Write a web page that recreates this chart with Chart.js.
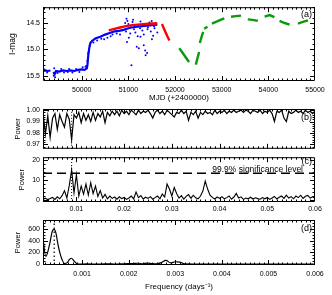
<!DOCTYPE html>
<html>
<head>
<meta charset="utf-8">
<script src="https://cdn.jsdelivr.net/npm/chart.js@4.4.1/dist/chart.umd.min.js"></script>
<style>
  html, body { margin: 0; padding: 0; background: #fff; }
  #wrap { position: relative; width: 332px; height: 295px; overflow: hidden; }
  canvas { position: absolute; left: 0; }
</style>
</head>
<body>
<div id="wrap">
  <canvas id="chartA" width="332" height="106" style="top:0px"></canvas>
  <canvas id="chartB" width="332" height="56" style="top:100px"></canvas>
  <canvas id="chartC" width="332" height="62" style="top:150px"></canvas>
  <canvas id="chartD" width="332" height="83" style="top:212px"></canvas>
</div>
<script>
// ---------------------------------------------------------------
// data
// ---------------------------------------------------------------

// (a) light curve, [MJD, I-mag]; null mag = gap between seasons
const blueTrend = [
  [49175, 15.41], [49220, 15.40], [49270, 15.41], [49330, 15.40], [49350, null],
  [49390, 15.43], [49420, 15.47], [49450, 15.41], [49520, 15.42], [49600, 15.40],
  [49680, 15.41], [49760, 15.40], [49840, 15.41], [49920, 15.39], [50000, 15.38],
  [50060, 15.39], [50110, 15.36], [50125, 15.28], [50140, 15.12], [50160, 14.98],
  [50185, 14.88], [50220, 14.84], [50300, 14.79], [50400, 14.76], [50500, 14.72],
  [50600, 14.69], [50700, 14.66], [50800, 14.65], [50900, 14.63], [51000, 14.60],
  [51100, 14.58], [51200, 14.57], [51300, 14.56], [51400, 14.55], [51500, 14.54],
  [51620, 14.53]
];
const blueScatter = [
  [49200, 15.38], [49260, 15.44], [49400, 15.50], [49430, 15.53], [49410, 15.36],
  [49480, 15.45], [49560, 15.37], [49620, 15.44], [49700, 15.43], [49730, 15.37],
  [49800, 15.44], [49880, 15.37], [49950, 15.43], [50020, 15.34], [50080, 15.33],
  [50100, 15.31], [50120, 15.22], [50130, 15.18], [50135, 15.08], [50150, 15.05],
  [50170, 14.93], [50250, 14.87], [50330, 14.83], [50420, 14.80], [50480, 14.81],
  [50550, 14.78], [50620, 14.75], [50660, 14.72], [50750, 14.70], [50820, 14.72],
  [50930, 14.50], [50960, 14.42], [50980, 14.46], [51000, 14.52], [50950, 14.66],
  [50970, 14.86], [51010, 14.78], [51040, 14.70], [51065, 15.30], [51090, 14.48],
  [51120, 14.62], [51150, 14.68], [51180, 14.95], [51210, 14.54], [51225, 14.98],
  [51260, 14.47], [51300, 14.64], [51330, 14.72], [51360, 15.02], [51370, 15.11],
  [51400, 15.07], [51420, 14.58], [51450, 14.49], [51480, 14.66], [51505, 14.81],
  [51530, 14.74], [51560, 14.60], [51590, 14.50], [51620, 14.68], [51100, 14.44],
  [51250, 14.60], [51500, 14.46], [51410, 14.62], [51550, 14.56], [51200, 14.75],
  [51050, 14.58], [51330, 14.92], [51260, 14.76]
];
const redSeasons = [
  [50580, 14.64], [50700, 14.61], [50800, 14.59], [50950, 14.56], [51080, 14.54],
  [51200, 14.53], [51370, 14.52], [51500, 14.51], [51620, 14.51], [51670, null],
  [51720, 14.52], [51780, 14.64], [51830, 14.74], [51880, 14.83]
];
const greenSeasons = [
  [52090, 14.98], [52150, 15.05], [52220, 15.14], [52300, 15.24], [52370, null],
  [52446, 15.29], [52480, 15.17], [52517, 15.05], [52525, null],
  [52532, 14.88], [52570, 14.76], [52603, 14.67], [52614, null],
  [52625, 14.61], [52660, 14.59], [52696, 14.57], [52740, null],
  [52790, 14.51], [52900, 14.47], [53000, 14.43], [53056, 14.41], [53130, null],
  [53200, 14.38], [53300, 14.37], [53415, 14.36], [53490, null],
  [53560, 14.43], [53660, 14.44], [53775, 14.46], [53850, null],
  [53920, 14.38], [54025, 14.35], [54130, 14.39], [54190, null],
  [54240, 14.46], [54350, 14.50], [54455, 14.53], [54550, null],
  [54635, 14.51], [54740, 14.48], [54850, 14.45]
];

// (b), (c) periodograms on a common frequency grid (days^-1)
const freqBC = [
  0.0030, 0.0035, 0.0040, 0.0045, 0.0050, 0.0055, 0.0060, 0.0065, 0.0070, 0.0075,
  0.0080, 0.0085, 0.0090, 0.0095, 0.0100, 0.0105, 0.0110, 0.0115, 0.0120, 0.0125,
  0.0130, 0.0135, 0.0140, 0.0145, 0.0150, 0.0155, 0.0160, 0.0165, 0.0170, 0.0175,
  0.0180, 0.0185, 0.0190, 0.0195, 0.0200, 0.0205, 0.0210, 0.0215, 0.0220, 0.0225,
  0.0230, 0.0235, 0.0240, 0.0245, 0.0250, 0.0255, 0.0260, 0.0265, 0.0270, 0.0275,
  0.0280, 0.0285, 0.0290, 0.0295, 0.0300, 0.0305, 0.0310, 0.0315, 0.0320, 0.0325,
  0.0330, 0.0335, 0.0340, 0.0345, 0.0350, 0.0355, 0.0360, 0.0365, 0.0370, 0.0375,
  0.0380, 0.0385, 0.0390, 0.0395, 0.0400, 0.0405, 0.0410, 0.0415, 0.0420, 0.0425,
  0.0430, 0.0435, 0.0440, 0.0445, 0.0450, 0.0455, 0.0460, 0.0465, 0.0470, 0.0475,
  0.0480, 0.0485, 0.0490, 0.0495, 0.0500, 0.0505, 0.0510, 0.0515, 0.0520, 0.0525,
  0.0530, 0.0535, 0.0540, 0.0545, 0.0550, 0.0555, 0.0560, 0.0565, 0.0570, 0.0575,
  0.0580, 0.0585, 0.0590, 0.0595, 0.0600
];
const powerB = [
  0.998, 0.979, 0.995, 0.976, 0.993, 0.997, 0.983, 0.996, 0.990, 0.985,
  0.997, 0.992, 0.974, 0.996, 0.993, 0.998, 0.989, 0.997, 0.991, 0.996,
  0.990, 0.998, 0.991, 0.997, 0.994, 0.999, 0.989, 0.998, 0.995, 0.999,
  0.996, 0.999, 0.995, 1.000, 0.997, 0.999, 0.996, 1.000, 0.998, 0.996,
  1.000, 0.997, 0.999, 0.998, 1.000, 0.997, 0.993, 0.998, 1.000, 0.997,
  0.999, 0.996, 1.000, 0.998, 0.996, 0.994, 0.998, 0.997, 1.000, 0.997,
  0.999, 0.991, 0.998, 0.996, 0.999, 0.993, 0.998, 0.996, 0.999, 0.997,
  0.998, 0.996, 1.000, 0.997, 0.999, 0.998, 1.000, 0.997, 0.999, 0.998,
  1.000, 0.998, 0.999, 1.000, 0.998, 1.000, 0.999, 0.997, 1.000, 0.999,
  0.998, 1.000, 0.997, 0.999, 0.998, 1.000, 0.997, 0.990, 0.999, 0.998,
  1.000, 0.993, 0.990, 0.999, 0.997, 0.998, 1.000, 0.998, 0.999, 0.997,
  1.000, 0.998, 0.999, 0.997, 0.999
];
const powerC = [
  0.3, 0.9, 0.2, 0.7, 1.3, 0.3, 1.6, 0.6, 2.2, 4.7,
  1.0, 7.2, 15.1, 3.5, 12.7, 2.0, 7.0, 3.0, 8.0, 2.5,
  8.7, 3.2, 7.0, 1.8, 4.7, 1.0, 2.8, 0.6, 2.0, 0.8,
  1.5, 0.4, 1.6, 0.7, 1.3, 0.3, 1.0, 2.0, 0.6, 4.0,
  1.2, 2.2, 0.5, 1.4, 0.8, 1.7, 0.4, 1.2, 2.0, 0.6,
  3.0, 1.5, 8.0, 5.5, 2.0, 6.3, 3.3, 1.0, 2.2, 0.5,
  1.8, 2.7, 0.9, 2.4, 1.1, 0.6, 2.0, 4.5, 9.5, 5.5,
  2.4, 1.3, 0.5, 1.5, 0.8, 1.7, 0.6, 1.2, 2.0, 0.4,
  1.5, 3.3, 1.0, 1.6, 0.3, 1.0, 0.6, 1.4, 0.5, 1.1,
  0.7, 0.4, 1.2, 0.6, 1.3, 0.3, 1.0, 1.8, 0.5, 1.4,
  2.0, 0.8, 2.4, 1.0, 1.7, 0.6, 2.0, 1.2, 2.4, 0.8,
  1.9, 2.3, 1.0, 1.6, 0.9
];
const sigLevel = 13.5;
const peakFreqBC = 0.009;

// (d) long-period periodogram
const freqD = [
  0.00016, 0.00022, 0.00030, 0.00036, 0.00040, 0.00044, 0.00048, 0.00052, 0.00056, 0.00062,
  0.00068, 0.00073, 0.00077, 0.00082, 0.00088, 0.00095, 0.0011, 0.0013, 0.0015, 0.0017,
  0.0019, 0.0021, 0.0022, 0.0023, 0.0024, 0.0025, 0.0026, 0.0027, 0.0028, 0.0029,
  0.0030, 0.0031, 0.0032, 0.0034, 0.0037, 0.0040, 0.0045, 0.0050, 0.0055, 0.0060
];
const powerD = [
  430, 130, 330, 560, 590, 520, 340, 200, 95, 10,
  25, 80, 100, 60, 10, 0, 3, 0, 4, 1,
  6, 10, 15, 6, 18, 10, 5, 25, 65, 20,
  40, 35, 5, 2, 0, 2, 0, 1, 0, 0
];
const peakFreqD = 0.0004;

// tick labels
const mjdTicks = [50000, 51000, 52000, 53000, 54000, 55000];
const magTicks = [14.5, 15.0, 15.5];
const powerTicksB = [0.97, 0.98, 0.99, 1.00];
const freqTicksC = [0.01, 0.02, 0.03, 0.04, 0.05, 0.06];
const powerTicksC = [0, 10, 20];
const freqTicksD = [0.001, 0.002, 0.003, 0.004, 0.005, 0.006];
const powerTicksD = [0, 200, 400, 600];

// ---------------------------------------------------------------
// styling
// ---------------------------------------------------------------
const colors = { blue: '#0000ff', red: '#ff0000', green: '#0c9a0c', ink: '#000000' };
const FONT = "'Liberation Sans', Arial, sans-serif";

Chart.defaults.font.family = FONT;
Chart.defaults.font.size = 7;
Chart.defaults.color = colors.ink;
Chart.defaults.animation = false;
Chart.defaults.plugins.legend.display = false;
Chart.defaults.plugins.tooltip.enabled = false;
Chart.defaults.elements.point.radius = 0;

const toXY = arr => arr.map(([x, y]) => ({ x, y }));
const zipXY = (xs, ys) => xs.map((x, i) => ({ x, y: ys[i] }));

// IDL-like box with inward major/minor ticks on all four sides + panel tag
function makeFrame(cfg) {
  return {
    id: 'frame',
    afterDatasetsDraw(chart) {
      const { ctx, chartArea: a, scales: { x, y } } = chart;
      const seg = (x1, y1, x2, y2) => { ctx.moveTo(x1, y1); ctx.lineTo(x2, y2); };
      ctx.save();
      ctx.strokeStyle = colors.ink;
      ctx.lineWidth = 1;
      ctx.beginPath();
      ctx.rect(a.left + 0.5, a.top + 0.5, a.right - a.left - 1, a.bottom - a.top - 1);
      const marks = (scale, values, len, horiz) => {
        values.forEach(v => {
          const p = Math.round(scale.getPixelForValue(v)) + 0.5;
          if (horiz) {
            if (p < a.left || p > a.right) return;
            seg(p, a.bottom, p, a.bottom - len);
            seg(p, a.top, p, a.top + len);
          } else {
            if (p < a.top || p > a.bottom) return;
            seg(a.left, p, a.left + len, p);
            seg(a.right, p, a.right - len, p);
          }
        });
      };
      const minors = (scale, step) => {
        const out = [];
        for (let n = Math.ceil(scale.min / step - 1e-6); n * step <= scale.max + 1e-9; n++) out.push(n * step);
        return out;
      };
      marks(x, cfg.xMajor, 5, true);
      marks(y, cfg.yMajor, 5, false);
      marks(x, minors(x, cfg.xMinor), 2.5, true);
      marks(y, minors(y, cfg.yMinor), 2.5, false);
      ctx.stroke();
      ctx.font = '9px ' + FONT;
      ctx.fillStyle = colors.ink;
      ctx.textAlign = 'right';
      ctx.textBaseline = 'middle';
      ctx.fillText(cfg.tag, a.right - 3, a.top + cfg.tagDy);
      ctx.restore();
    }
  };
}

function yScale(min, max, ticks, fmt, title, titlePad, reverse) {
  return {
    type: 'linear', min, max, reverse: !!reverse,
    afterFit: s => { s.width = 43; },
    afterBuildTicks: s => { s.ticks = ticks.map(v => ({ value: v })); },
    grid: { display: false, drawTicks: false },
    border: { display: false },
    ticks: { padding: 3, autoSkip: false, callback: fmt },
    title: { display: true, text: title, font: { size: title === 'I-mag' ? 8.5 : 7.5 }, padding: { top: titlePad, bottom: 0 } }
  };
}

function xScale(min, max, ticks, fmt, height, title, pad) {
  return {
    type: 'linear', min, max,
    afterFit: s => { s.height = height; },
    afterBuildTicks: s => { s.ticks = ticks.map(v => ({ value: v })); },
    grid: { display: false, drawTicks: false },
    border: { display: false },
    ticks: { display: !!fmt, padding: pad, autoSkip: false, maxRotation: 0, callback: fmt || (() => '') },
    title: { display: !!title, text: title || '', font: { size: 8 }, padding: { top: 0, bottom: 3 } }
  };
}

const base = { responsive: false, devicePixelRatio: 1 };

// ---------------------------------------------------------------
// (a) I-band light curve
// ---------------------------------------------------------------
new Chart(document.getElementById('chartA'), {
  type: 'line',
  data: {
    datasets: [
      { data: toXY(redSeasons), borderColor: colors.red, borderWidth: 2.4, order: 0 },
      { data: toXY(greenSeasons), borderColor: colors.green, borderWidth: 2.4, order: 1 },
      { data: toXY(blueTrend), borderColor: colors.blue, borderWidth: 2.2, order: 2 },
      { data: toXY(blueScatter), showLine: false, pointRadius: 1, pointBorderWidth: 0,
        backgroundColor: colors.blue, borderColor: colors.blue, order: 3 }
    ]
  },
  options: {
    ...base,
    layout: { padding: { top: 7, right: 17, left: 0, bottom: 0 } },
    scales: {
      x: xScale(49170, 55000, mjdTicks, v => String(v), 25, 'MJD (+2400000)', 4.5),
      y: yScale(14.2, 15.6, magTicks, v => v.toFixed(1), 'I-mag', 8, true)
    }
  },
  plugins: [makeFrame({ xMajor: mjdTicks, xMinor: 100, yMajor: magTicks, yMinor: 0.1, tag: '(a)', tagDy: 7 })]
});

// ---------------------------------------------------------------
// (b) periodogram
// ---------------------------------------------------------------
new Chart(document.getElementById('chartB'), {
  type: 'line',
  data: {
    datasets: [
      { data: zipXY(freqBC, powerB), borderColor: colors.ink, borderWidth: 1.2, order: 0 },
      { data: [{ x: peakFreqBC, y: 0.966 }, { x: peakFreqBC, y: 1.001 }],
        borderColor: colors.ink, borderWidth: 1, borderDash: [1, 2], order: 1 }
    ]
  },
  options: {
    ...base,
    layout: { padding: { top: 9, right: 17, left: 0, bottom: 1 } },
    scales: {
      x: xScale(0.003, 0.06, freqTicksC, null, 0, null, 0),
      y: yScale(0.966, 1.001, powerTicksB, v => v.toFixed(2), 'Power', 13.5)
    }
  },
  plugins: [makeFrame({ xMajor: freqTicksC, xMinor: 0.001, yMajor: powerTicksB, yMinor: 0.002, tag: '(b)', tagDy: 9 })]
});

// ---------------------------------------------------------------
// (c) periodogram with significance level
// ---------------------------------------------------------------
const sigPlugin = {
  id: 'sig',
  afterDatasetsDraw(chart) {
    const { ctx, chartArea: a, scales: { y } } = chart;
    ctx.save();
    ctx.font = '8.5px ' + FONT;
    ctx.fillStyle = colors.ink;
    ctx.textAlign = 'right';
    ctx.textBaseline = 'alphabetic';
    ctx.fillText('99.9% significance level', a.right - 12, y.getPixelForValue(sigLevel) - 1.5);
    ctx.restore();
  }
};

new Chart(document.getElementById('chartC'), {
  type: 'line',
  data: {
    datasets: [
      { data: zipXY(freqBC, powerC), borderColor: colors.ink, borderWidth: 1.1, order: 0 },
      { data: [{ x: 0.003, y: sigLevel }, { x: 0.06, y: sigLevel }],
        borderColor: colors.ink, borderWidth: 1.5, borderDash: [9, 5], order: 1 },
      { data: [{ x: peakFreqBC, y: -1 }, { x: peakFreqBC, y: 21.5 }],
        borderColor: colors.ink, borderWidth: 1, borderDash: [1, 2], order: 2 }
    ]
  },
  options: {
    ...base,
    layout: { padding: { top: 5, right: 17, left: 0, bottom: 0 } },
    scales: {
      x: xScale(0.003, 0.06, freqTicksC, v => v.toFixed(2), 10, null, 3),
      y: yScale(-1, 21.5, powerTicksC, v => String(v), 'Power', 17)
    }
  },
  plugins: [makeFrame({ xMajor: freqTicksC, xMinor: 0.001, yMajor: powerTicksC, yMinor: 2, tag: '(c)', tagDy: 4 }), sigPlugin]
});

// ---------------------------------------------------------------
// (d) long-period periodogram
// ---------------------------------------------------------------
new Chart(document.getElementById('chartD'), {
  type: 'line',
  data: {
    datasets: [
      { data: zipXY(freqD, powerD), borderColor: colors.ink, borderWidth: 1.2,
        cubicInterpolationMode: 'monotone', order: 0 },
      { data: [{ x: peakFreqD, y: -15 }, { x: peakFreqD, y: 750 }],
        borderColor: colors.ink, borderWidth: 1.2, borderDash: [1.5, 2.5], order: 1 }
    ]
  },
  options: {
    ...base,
    layout: { padding: { top: 8, right: 17, left: 0, bottom: 0 } },
    scales: {
      x: xScale(0.00016, 0.006, freqTicksD, v => v.toFixed(3), 30, 'Frequency (days\u207B\u00B9)', 4.5),
      y: yScale(-15, 750, powerTicksD, v => String(v), 'Power', 13.5)
    }
  },
  plugins: [makeFrame({ xMajor: freqTicksD, xMinor: 0.0001, yMajor: powerTicksD, yMinor: 50, tag: '(d)', tagDy: 9 })]
});
</script>
</body>
</html>
